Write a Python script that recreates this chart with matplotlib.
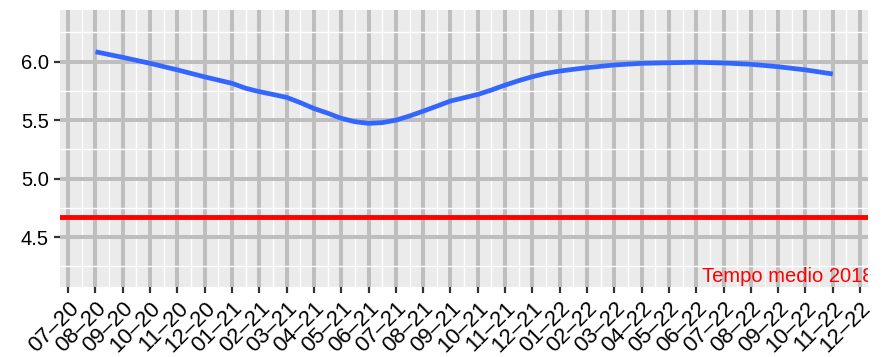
import matplotlib
matplotlib.use("Agg")
import matplotlib.pyplot as plt
from matplotlib.ticker import FixedLocator

plt.rcParams['font.family'] = ['Liberation Sans', 'DejaVu Sans']

# month labels (mm-yy), July 2020 .. December 2022
months = ['07–20', '08–20', '09–20', '10–20', '11–20', '12–20',
          '01–21', '02–21', '03–21', '04–21', '05–21', '06–21',
          '07–21', '08–21', '09–21', '10–21', '11–21', '12–21',
          '01–22', '02–22', '03–22', '04–22', '05–22', '06–22',
          '07–22', '08–22', '09–22', '10–22', '11–22', '12–22']

# smoothed average time (month index, 0 = 07-20)
trend_idx = [1, 2, 3, 4, 5, 6, 6.5, 7, 7.5, 8, 8.5, 9, 9.5, 10, 10.5,
             11, 11.5, 12, 12.5, 13, 13.5, 14, 14.5, 15, 15.5, 16, 16.5,
             17, 17.5, 18, 18.5, 19, 20, 21, 22, 23, 24, 25, 26, 27, 28]
trend_vals = [6.085, 6.037, 5.986, 5.93, 5.87, 5.815, 5.773, 5.744, 5.72,
              5.695, 5.65, 5.60, 5.56, 5.516, 5.487, 5.473, 5.479, 5.50,
              5.536, 5.577, 5.62, 5.664, 5.692, 5.72, 5.758, 5.80, 5.838,
              5.872, 5.90, 5.92, 5.935, 5.949, 5.972, 5.986, 5.991, 5.995,
              5.989, 5.978, 5.957, 5.93, 5.895]

mean_2018 = 4.67
label_2018 = 'Tempo medio 2018'

fig = plt.figure(figsize=(8.92, 3.57), dpi=100)
ax = fig.add_axes([60 / 892, 1 - 287 / 357, 808 / 892, 277 / 357])
ax.set_facecolor('#EBEBEB')

x = list(range(len(months)))
ax.set_xlim(-0.30, 29.29)
ax.set_ylim(4.074, 6.442)

# grid like ggplot, but with thick grey major lines
ax.xaxis.set_major_locator(FixedLocator(x))
ax.xaxis.set_minor_locator(FixedLocator([i + 0.5 for i in range(-1, 30)]))
ax.yaxis.set_major_locator(FixedLocator([4.5, 5.0, 5.5, 6.0]))
ax.yaxis.set_minor_locator(FixedLocator([4.25, 4.75, 5.25, 5.75, 6.25]))
ax.grid(which='minor', color='white', linewidth=1.0)
ax.grid(which='major', color='#BEBEBE', linewidth=2.9)
ax.set_axisbelow(True)

ax.plot(trend_idx, trend_vals, color='#3366FF', linewidth=3.4,
        solid_capstyle='butt', solid_joinstyle='round')
ax.axhline(mean_2018, color='#FF0000', linewidth=3.5)
ax.text(23.2, 4.168, label_2018, color='#FF0000', fontsize=14.5,
        ha='left', va='center', clip_on=True)

ax.set_xticks(x)
ax.set_xticklabels(months, rotation=45, ha='right', rotation_mode='anchor',
                   fontsize=16)
ax.set_yticks([4.5, 5.0, 5.5, 6.0])
ax.set_yticklabels(['4.5', '5.0', '5.5', '6.0'], fontsize=14.5)
ax.tick_params(which='major', length=4, width=1.6, color='#333333',
               labelcolor='black', pad=4)
ax.tick_params(which='minor', length=0)
for s in ax.spines.values():
    s.set_visible(False)

fig.savefig('out.png', dpi=100)
